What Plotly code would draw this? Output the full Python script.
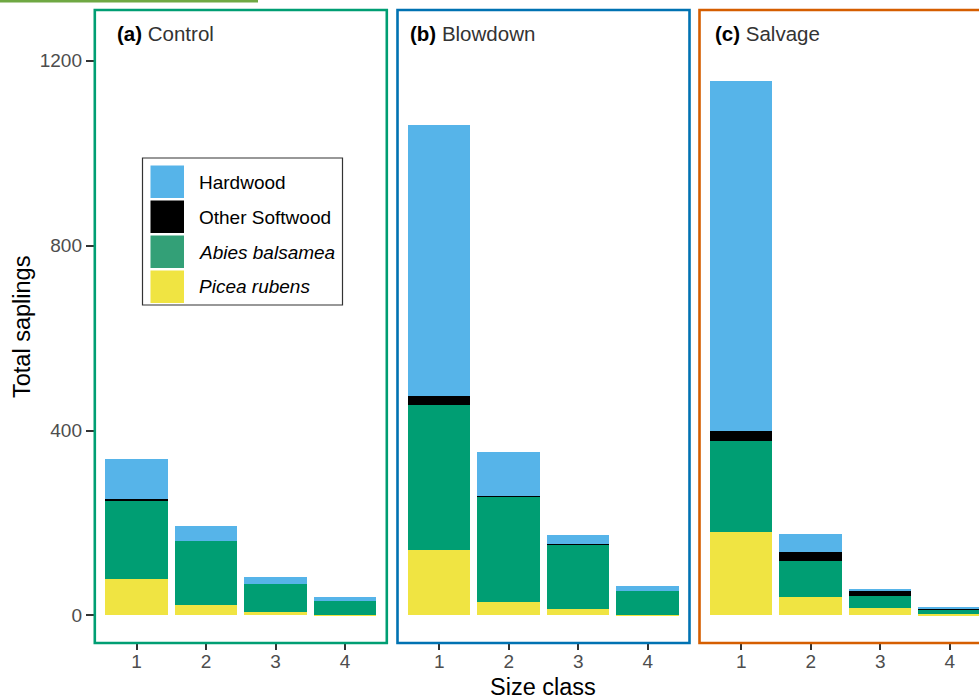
import plotly.graph_objects as go

# ---------------- data ----------------
size_classes = [1, 2, 3, 4]
tick_labels = ["1", "2", "3", "4"]
y_ticks = [0, 400, 800, 1200]

control_picea = [79, 23, 7, 1]
control_abies = [169, 138, 62, 30]
control_other = [4, 0, 0, 0]
control_hardwood = [86, 32, 14, 9]

blowdown_picea = [141, 29, 14, 2]
blowdown_abies = [314, 228, 139, 51]
blowdown_other = [20, 1, 1, 0]
blowdown_hardwood = [586, 96, 20, 10]

salvage_picea = [181, 39, 17, 3]
salvage_abies = [196, 79, 25, 9]
salvage_other = [21, 19, 12, 3]
salvage_hardwood = [758, 39, 3, 4]

species_names = ["Picea rubens", "Abies balsamea", "Other Softwood", "Hardwood"]
species_colors = ["#F0E442", "#009E73", "#000000", "#56B4E9"]
legend_swatch_colors = ["#F0E442", "#33A077", "#000000", "#56B4E9"]

panel_tags = ["(a)", "(b)", "(c)"]
panel_names = ["Control", "Blowdown", "Salvage"]
panel_colors = ["#009E73", "#0072B2", "#D55E00"]

panel_data = [
    [control_picea, control_abies, control_other, control_hardwood],
    [blowdown_picea, blowdown_abies, blowdown_other, blowdown_hardwood],
    [salvage_picea, salvage_abies, salvage_other, salvage_hardwood],
]

# ---------------- layout geometry ----------------
W, H = 979, 700
FONT = "Liberation Sans, Arial, sans-serif"
px_per_unit = 69.5
panel_w = 292.0
lefts = [94.8, 397.5, 699.5]
title_x = [115, 408, 713]
top_px, bot_px = 10.0, 643.0
y_range = [-59.5, 1309.7]


def px(x):
    return x / W


def py(y):
    return 1 - y / H


fig = go.Figure()

axis_ids = ["", "2", "3"]
for i, series in enumerate(panel_data):
    xa = "x" + axis_ids[i]
    ya = "y" + axis_ids[i]
    for s, vals in enumerate(series):
        fig.add_trace(go.Bar(
            x=size_classes, y=vals, name=species_names[s],
            marker=dict(color=species_colors[s], line=dict(width=0)),
            width=0.9, xaxis=xa, yaxis=ya, showlegend=False,
        ))

layout = dict(
    width=W, height=H, barmode="stack",
    margin=dict(l=0, r=0, t=0, b=0),
    paper_bgcolor="white", plot_bgcolor="white",
    font=dict(family=FONT),
)

for i in range(3):
    left = lefts[i]
    right = min(left + panel_w, W)
    xr = [0.4, 0.4 + (right - left) / px_per_unit]
    xkey = "xaxis" + axis_ids[i]
    ykey = "yaxis" + axis_ids[i]
    layout[xkey] = dict(
        domain=[px(left), px(right)], range=xr, anchor="y" + axis_ids[i],
        tickmode="array", tickvals=size_classes, ticktext=tick_labels,
        ticks="outside", ticklen=6, tickwidth=2, tickcolor="#333333",
        ticklabelstandoff=-5,
        tickfont=dict(size=19, color="#4D4D4D", family=FONT),
        showgrid=False, zeroline=False, showline=False, fixedrange=True,
    )
    ydict = dict(
        domain=[py(bot_px), py(top_px)], range=y_range, anchor="x" + axis_ids[i],
        showgrid=False, zeroline=False, showline=False, fixedrange=True,
    )
    if i == 0:
        ydict.update(
            tickmode="array", tickvals=y_ticks, ticks="outside", ticklen=8,
            tickwidth=2, tickcolor="#333333",
            tickfont=dict(size=19, color="#4D4D4D", family=FONT),
        )
    else:
        ydict.update(matches="y", showticklabels=False, ticks="")
    layout[ykey] = ydict

fig.update_layout(**layout)

shapes = []
annotations = []

# panel borders
for i in range(3):
    left = lefts[i]
    right = left + panel_w
    x1 = px(right) if right <= W else 1.03
    shapes.append(dict(
        type="rect", xref="paper", yref="paper",
        x0=px(left), x1=x1, y0=py(bot_px), y1=py(top_px),
        line=dict(color=panel_colors[i], width=2.6), fillcolor="rgba(0,0,0,0)",
        layer="above",
    ))
    annotations.append(dict(
        xref="paper", yref="paper", x=px(title_x[i]), y=py(33),
        xanchor="left", yanchor="middle", showarrow=False,
        text="<b>%s</b> <span style='color:#333333'>%s</span>" % (panel_tags[i], panel_names[i]),
        font=dict(size=20.5, color="#000000", family=FONT),
    ))

# legend (drawn manually to match big swatches)
shapes.append(dict(
    type="rect", xref="paper", yref="paper",
    x0=px(142.5), x1=px(342.5), y0=py(305), y1=py(158),
    line=dict(color="#333333", width=1.2), fillcolor="white", layer="above",
))
legend_order = [3, 2, 1, 0]
sw_tops = [165.5, 200.5, 235.5, 270.5]
for k, s in enumerate(legend_order):
    t = sw_tops[k]
    shapes.append(dict(
        type="rect", xref="paper", yref="paper",
        x0=px(150.5), x1=px(184), y0=py(t + 32.5), y1=py(t),
        line=dict(width=0), fillcolor=legend_swatch_colors[s], layer="above",
    ))
    label = species_names[s]
    if s in (0, 1):
        label = "<i>%s</i>" % label
    annotations.append(dict(
        xref="paper", yref="paper", x=px(196.5), y=py(t + 16.5),
        xanchor="left", yanchor="middle", showarrow=False, text=label,
        font=dict(size=19, color="#000000", family=FONT),
    ))

# axis titles
annotations.append(dict(
    xref="paper", yref="paper", x=px(22), y=py(327), xanchor="center", yanchor="middle",
    showarrow=False, text="Total saplings", textangle=-90,
    font=dict(size=23.5, color="#000000", family=FONT),
))
annotations.append(dict(
    xref="paper", yref="paper", x=px(543), y=py(687), xanchor="center", yanchor="middle",
    showarrow=False, text="Size class",
    font=dict(size=23.5, color="#000000", family=FONT),
))

# thin green strip at top-left of the reference image
shapes.append(dict(
    type="line", xref="paper", yref="paper",
    x0=0, x1=px(258), y0=py(1), y1=py(1),
    line=dict(color="#6FA843", width=3), layer="above",
))

fig.update_layout(shapes=shapes, annotations=annotations)
fig.write_html(
    "out.html",
    config={"displayModeBar": False},
    post_script="document.body.style.margin='0';document.body.style.overflow='hidden';",
)
